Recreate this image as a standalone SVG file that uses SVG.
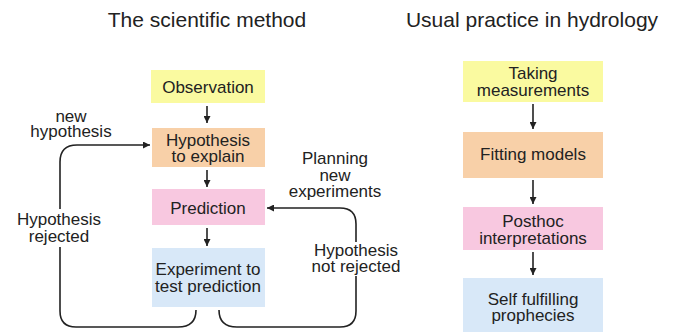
<svg xmlns="http://www.w3.org/2000/svg" width="680" height="332" viewBox="0 0 680 332">
<defs>
<marker id="ah" viewBox="0 0 10 10" refX="10" refY="5" markerWidth="7" markerHeight="7" markerUnits="userSpaceOnUse" orient="auto">
<path d="M0,0 L10,5 L0,10 Z" fill="#222"/>
</marker>
<style>
text{font-family:"Liberation Sans",Arial,sans-serif;fill:#222;text-anchor:middle}
.t{font-size:21px}
.b{font-size:17px}
.l{font-size:17px}
.c{fill:none;stroke:#222;stroke-width:1.6}
.y{fill:#fafaa0}.o{fill:#f8d0a8}.p{fill:#f8c8e0}.u{fill:#d8e8f8}
</style>
</defs>
<rect width="680" height="332" fill="#fff"/>
<text class="t" x="207" y="27">The scientific method</text>
<text class="t" x="532" y="27">Usual practice in hydrology</text>

<g id="connectors">
<path class="c" d="M207,106 V123" marker-end="url(#ah)"/>
<path class="c" d="M207,170 V187" marker-end="url(#ah)"/>
<path class="c" d="M207,228 V246" marker-end="url(#ah)"/>
<path class="c" d="M196,310 C196,322 190,327 178,327 L76,327 Q60,327 60,311 L60,162 Q60,145 77,145 L150,145" marker-end="url(#ah)"/>
<path class="c" d="M219,310 C219,322 225,327 237,327 L340,327 Q356,327 356,311 L356,224 Q356,208 340,208 L267,208" marker-end="url(#ah)"/>
<path class="c" d="M533,104 V129" marker-end="url(#ah)"/>
<path class="c" d="M533,180 V204" marker-end="url(#ah)"/>
<path class="c" d="M533,252 V275" marker-end="url(#ah)"/>
</g>

<g id="label-new-hypothesis">
<text class="l" x="71" y="122">new</text>
<text class="l" x="71" y="137">hypothesis</text>
</g>
<g id="label-hypothesis-rejected">
<rect x="14" y="209" width="92" height="38" fill="#fff"/>
<text class="l" x="59" y="225">Hypothesis</text>
<text class="l" x="59" y="242">rejected</text>
</g>
<g id="label-planning">
<text class="l" x="335" y="164">Planning</text>
<text class="l" x="335" y="181">new</text>
<text class="l" x="335" y="197">experiments</text>
</g>
<g id="label-not-rejected">
<rect x="309" y="242" width="96" height="34" fill="#fff"/>
<text class="l" x="356" y="256">Hypothesis</text>
<text class="l" x="356" y="272">not rejected</text>
</g>

<g id="observation">
<rect class="y" x="151" y="70" width="114" height="33"/>
<text class="b" x="208" y="93">Observation</text>
</g>
<g id="hypothesis">
<rect class="o" x="152" y="128" width="113" height="39"/>
<text class="b" x="208" y="146">Hypothesis</text>
<text class="b" x="208" y="162">to explain</text>
</g>
<g id="prediction">
<rect class="p" x="152" y="189" width="113" height="36"/>
<text class="b" x="208" y="214">Prediction</text>
</g>
<g id="experiment">
<rect class="u" x="152" y="248" width="113" height="59"/>
<text class="b" x="208" y="275">Experiment to</text>
<text class="b" x="208" y="292">test prediction</text>
</g>

<g id="taking">
<rect class="y" x="463" y="61" width="140" height="41"/>
<text class="b" x="533" y="79">Taking</text>
<text class="b" x="533" y="96">measurements</text>
</g>
<g id="fitting">
<rect class="o" x="463" y="132" width="140" height="46"/>
<text class="b" x="533" y="160">Fitting models</text>
</g>
<g id="posthoc">
<rect class="p" x="463" y="207" width="140" height="43"/>
<text class="b" x="533" y="227">Posthoc</text>
<text class="b" x="533" y="244">interpretations</text>
</g>
<g id="self">
<rect class="u" x="463" y="278" width="140" height="60"/>
<text class="b" x="533" y="305">Self fulfilling</text>
<text class="b" x="533" y="321">prophecies</text>
</g>
</svg>
